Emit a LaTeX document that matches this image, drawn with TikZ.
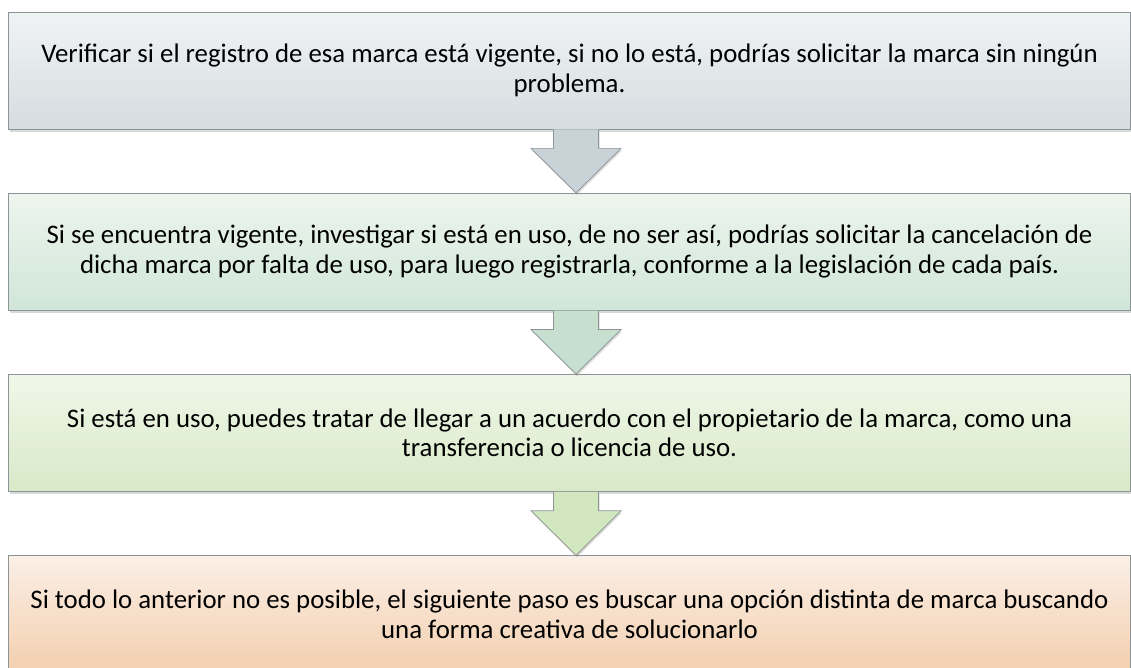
\documentclass[tikz,border=0pt]{standalone}
\usepackage{fontspec}
\setmainfont{Carlito}
\usepackage{tikz}
\usetikzlibrary{positioning}
\usetikzlibrary{calc}
\usetikzlibrary{shadows}

\definecolor{BoxLine}{HTML}{8C9497}
\definecolor{GrayTop}{HTML}{F0F3F4}
\definecolor{GrayBot}{HTML}{D5DDE0}
\definecolor{GrayArrow}{HTML}{C9D3D7}
\definecolor{MintTop}{HTML}{EDF5EE}
\definecolor{MintBot}{HTML}{D0E6D8}
\definecolor{MintArrow}{HTML}{C6DFCE}
\definecolor{LimeTop}{HTML}{F0F7E9}
\definecolor{LimeBot}{HTML}{D8E9C8}
\definecolor{LimeArrow}{HTML}{D3E7BE}
\definecolor{PeachTop}{HTML}{FBEFE6}
\definecolor{PeachBot}{HTML}{F3CFAE}

\tikzset{
	stepbox/.style={
		draw=BoxLine,
		line width=0.7pt,
		minimum width=1122pt,
		minimum height=117pt,
		align=center,
		font=\fontsize{26.8}{29.5}\selectfont,
		drop shadow={shadow xshift=1pt, shadow yshift=-3pt, opacity=0.3}
	},
	blockarrow/.style={
		draw=BoxLine,
		line width=0.7pt,
		drop shadow={shadow xshift=1pt, shadow yshift=-2pt, opacity=0.3}
	}
}

\begin{document}
\begin{tikzpicture}
	\clip (0,0) rectangle (1131pt,-667pt);
	
	\node[
	stepbox,
	top color=GrayTop,
	bottom color=GrayBot
	] (Verificar) at (569.5pt,-70.5pt) {Verificar si el registro de esa marca está vigente, si no lo está, podrías solicitar la marca sin ningún\\problema.};
	
	% ---
	
	\node[
	stepbox,
	top color=MintTop,
	bottom color=MintBot,
	below=63.5pt of Verificar
	] (Vigente) {Si se encuentra vigente, investigar si está en uso, de no ser así, podrías solicitar la cancelación de\\dicha marca por falta de uso, para luego registrarla, conforme a la legislación de cada país.};
	
	\node[
	stepbox,
	top color=LimeTop,
	bottom color=LimeBot,
	below=63.5pt of Vigente
	] (EnUso) {Si está en uso, puedes tratar de llegar a un acuerdo con el propietario de la marca, como una\\transferencia o licencia de uso.};
	
	\node[
	stepbox,
	top color=PeachTop,
	bottom color=PeachBot,
	below=63.5pt of EnUso
	] (Alternativa) {Si todo lo anterior no es posible, el siguiente paso es buscar una opción distinta de marca buscando\\una forma creativa de solucionarlo};
	
	% ---
	
	\draw[blockarrow, fill=GrayArrow]
	($(Verificar.south)+(-16pt,0)$) -- ($(Verificar.south)+(-16pt,-19pt)$)
	-- ($(Verificar.south)+(-38.5pt,-19pt)$) -- ($(Vigente.north)+(6.5pt,0)$)
	-- ($(Verificar.south)+(51.5pt,-19pt)$) -- ($(Verificar.south)+(29pt,-19pt)$)
	-- ($(Verificar.south)+(29pt,0)$);
	
	\draw[blockarrow, fill=MintArrow]
	($(Vigente.south)+(-16pt,0)$) -- ($(Vigente.south)+(-16pt,-19pt)$)
	-- ($(Vigente.south)+(-38.5pt,-19pt)$) -- ($(EnUso.north)+(6.5pt,0)$)
	-- ($(Vigente.south)+(51.5pt,-19pt)$) -- ($(Vigente.south)+(29pt,-19pt)$)
	-- ($(Vigente.south)+(29pt,0)$);
	
	\draw[blockarrow, fill=LimeArrow]
	($(EnUso.south)+(-16pt,0)$) -- ($(EnUso.south)+(-16pt,-19pt)$)
	-- ($(EnUso.south)+(-38.5pt,-19pt)$) -- ($(Alternativa.north)+(6.5pt,0)$)
	-- ($(EnUso.south)+(51.5pt,-19pt)$) -- ($(EnUso.south)+(29pt,-19pt)$)
	-- ($(EnUso.south)+(29pt,0)$);
\end{tikzpicture}
\end{document}
